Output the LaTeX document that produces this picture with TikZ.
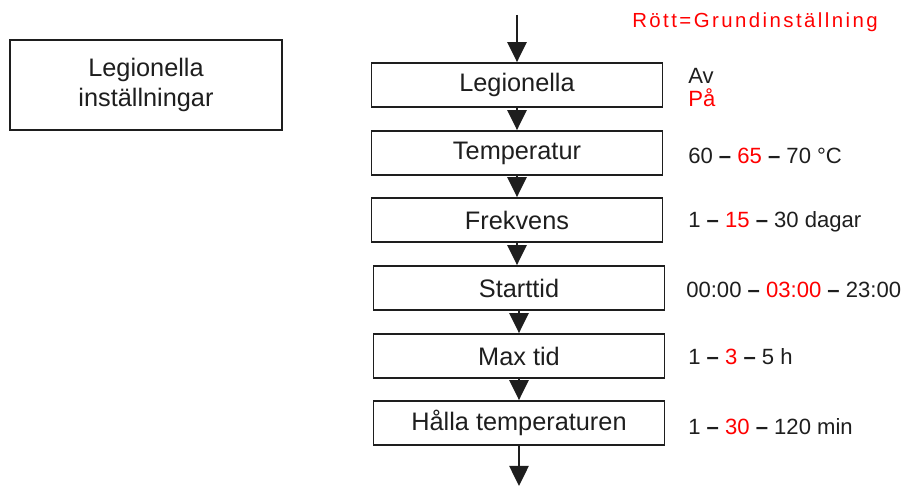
\documentclass[tikz,border=0pt]{standalone}
\usepackage{fontspec}
\setmainfont{Liberation Sans}
\newfontfamily\thinfont[LetterSpace=12]{Liberation Sans}
\usetikzlibrary{arrows.meta}

\definecolor{ink}{HTML}{1E1E1E}
\newcommand{\grund}[1]{\textcolor{red}{#1}}
\newcommand{\dsh}{\textbf{--}}

\begin{document}
\begin{tikzpicture}[x=0.025cm, y=-0.025cm,
  every node/.style={inner sep=0pt, text=ink},
  box/.style={draw=ink, line width=1.3pt, minimum width=7.275cm, minimum height=1.1cm, font=\fontsize{18}{20}\selectfont},
  val/.style={anchor=west, font=\fontsize{15.7}{18}\selectfont},
  flow/.style={draw=ink, line width=1.3pt, -{Triangle[length=0.5cm, width=0.48cm]}}]
\useasboundingbox (0,0) rectangle (902,486);

\node[box, minimum width=6.8cm, minimum height=2.25cm, align=center, font=\fontsize{18}{21.5}\selectfont] (info) at (146,85) {Legionella\\inställningar};

\node[anchor=west, text=red, font=\thinfont\fontsize{14.5}{18}\selectfont] (note) at (632,22) {Rött=Grundinställning};

\coordinate (in) at (517,15);
\node[box] (leg) at (517,85) {Legionella};
\node[box] (temp) at (517,153) {Temperatur};
\node[box] (frek) at (517,220) {Frekvens};
\node[box] (start) at (519,288) {Starttid};
\node[box] (max) at (519,356) {Max tid};
\node[box] (hold) at (519,423) {Hålla temperaturen};
\coordinate (out) at (519,486);

\draw[flow] (in) -- (leg);
\draw[flow] (leg) -- (temp);
\draw[flow] (temp) -- (frek);
\draw[flow] (frek.south) -- (frek.south |- start.north);
\draw[flow] (start) -- (max);
\draw[flow] (max) -- (hold);
\draw[flow] (hold) -- (out);

% values, default in red
\node[val] (legav) at (688,76) {Av};
\node[val] (legpa) at (688,98) {\grund{På}};
\node[val] (tempv) at (688,156) {60 \dsh{} \grund{65} \dsh{} 70 °C};
\node[val] (frekv) at (688,222) {1 \dsh{} \grund{15} \dsh{} 30 dagar};
\node[val] (startv) at (686,290) {00:00 \dsh{} \grund{03:00} \dsh{} 23:00};
\node[val] (maxv) at (688,357) {1 \dsh{} \grund{3} \dsh{} 5 h};
\node[val] (holdv) at (688,427) {1 \dsh{} \grund{30} \dsh{} 120 min};
\end{tikzpicture}
\end{document}
